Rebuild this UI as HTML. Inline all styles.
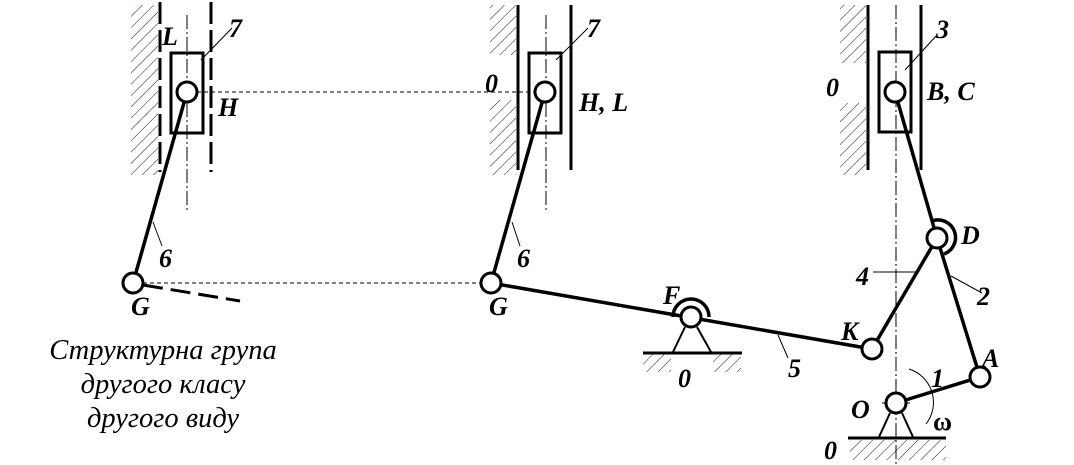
<!DOCTYPE html>
<html><head><meta charset="utf-8"><style>
html,body{margin:0;padding:0;background:#fff;}
svg{display:block;}
text{font-family:"Liberation Serif",serif;font-style:italic;font-weight:bold;fill:#000;}
.cap{font-weight:normal;font-size:28.5px;}
</style></head><body>
<svg width="1074" height="465" viewBox="0 0 1074 465" xmlns="http://www.w3.org/2000/svg">
<defs>
<pattern id="h" width="8" height="8" patternUnits="userSpaceOnUse" patternTransform="rotate(45)">
<line x1="0" y1="0" x2="0" y2="8" stroke="#000" stroke-width="0.9"/>
</pattern>
</defs>
<g fill="url(#h)">
<rect x="131" y="5" width="27" height="170"/>
<rect x="490" y="5" width="26" height="50"/>
<rect x="490" y="100" width="26" height="75"/>
<rect x="840" y="5" width="26" height="58"/>
<rect x="840" y="103" width="26" height="72"/>
<rect x="643" y="354" width="28" height="18"/>
<rect x="713" y="354" width="28" height="18"/>
<rect x="850" y="440" width="96" height="20"/>
</g>
<g stroke="#000" fill="none">
<line x1="197" y1="92" x2="535" y2="92" stroke-width="1" stroke-dasharray="4,3"/>
<line x1="143" y1="283" x2="481" y2="283" stroke-width="1" stroke-dasharray="4,3"/>
<line x1="187" y1="15" x2="187" y2="212" stroke-width="1" stroke-dasharray="14,3,2,3"/>
<line x1="546" y1="15" x2="546" y2="212" stroke-width="1" stroke-dasharray="14,3,2,3"/>
<line x1="896" y1="5" x2="896" y2="465" stroke-width="1" stroke-dasharray="14,3,2,3"/>
<line x1="160" y1="2" x2="160" y2="172" stroke-width="3" stroke-dasharray="22,6"/>
<line x1="211" y1="2" x2="211" y2="172" stroke-width="3" stroke-dasharray="22,6"/>
<line x1="143" y1="285" x2="240" y2="301" stroke-width="3" stroke-dasharray="20,8"/>
<line x1="518" y1="5" x2="518" y2="170" stroke-width="3"/>
<line x1="571" y1="5" x2="571" y2="170" stroke-width="3"/>
<line x1="868" y1="5" x2="868" y2="170" stroke-width="3"/>
<line x1="921" y1="5" x2="921" y2="170" stroke-width="3"/>
<rect x="171" y="53" width="32" height="80" stroke-width="3"/>
<rect x="529" y="53" width="32" height="80" stroke-width="3"/>
<rect x="879" y="52" width="32" height="80" stroke-width="3"/>
<g stroke-width="3.5">
<line x1="187" y1="92" x2="133" y2="283"/>
<line x1="545" y1="92" x2="491" y2="283"/>
<line x1="491" y1="283" x2="872" y2="349"/>
<line x1="895" y1="92" x2="937" y2="238"/>
<line x1="937" y1="238" x2="872" y2="349"/>
<line x1="937" y1="238" x2="980" y2="377"/>
<line x1="980" y1="377" x2="896" y2="403"/>
<path d="M673 317 A18 18 0 0 1 709 317"/>
<path d="M932 221 A17 17 0 0 1 944 254"/>
</g>
<g stroke-width="2">
<line x1="685" y1="327" x2="673" y2="352"/><line x1="697" y1="327" x2="711" y2="352"/>
<line x1="890" y1="413" x2="879" y2="437"/><line x1="902" y1="413" x2="913" y2="437"/>
</g>
<line x1="643" y1="353" x2="742" y2="353" stroke-width="3"/>
<line x1="848" y1="438" x2="946" y2="438" stroke-width="3"/>
<g stroke-width="1">
<line x1="201" y1="60" x2="232" y2="28"/>
<line x1="556" y1="60" x2="588" y2="28"/>
<line x1="905" y1="70" x2="936" y2="36"/>
<line x1="153" y1="222" x2="162" y2="246"/>
<line x1="512" y1="222" x2="520" y2="246"/>
<line x1="778" y1="335" x2="788" y2="358"/>
<line x1="873" y1="272" x2="917" y2="272"/>
<line x1="951" y1="276" x2="982" y2="293"/>
<path d="M909 369 A35 35 0 0 1 926 424"/>
<line x1="681" y1="317" x2="701" y2="317"/><line x1="691" y1="307" x2="691" y2="327"/>
<line x1="882" y1="403" x2="910" y2="403"/>
</g>
</g>
<g fill="#fff" stroke="#000" stroke-width="3">
<circle cx="187" cy="92" r="10"/>
<circle cx="545" cy="92" r="10"/>
<circle cx="895" cy="92" r="10"/>
<circle cx="133" cy="283" r="10"/>
<circle cx="491" cy="283" r="10"/>
<circle cx="691" cy="317" r="10"/>
<circle cx="872" cy="349" r="10"/>
<circle cx="937" cy="238" r="10"/>
<circle cx="980" cy="377" r="10"/>
<circle cx="896" cy="403" r="10"/>
</g>
<g font-size="26">
<text x="162" y="45">L</text><text x="229" y="37">7</text><text x="218" y="116">H</text>
<text x="159" y="267">6</text><text x="131" y="315">G</text>
<text x="485" y="92">0</text><text x="587" y="37">7</text><text x="579" y="111">H, L</text>
<text x="517" y="267">6</text><text x="489" y="315">G</text>
<text x="826" y="96">0</text><text x="936" y="38">3</text><text x="927" y="100">B, C</text>
<text x="961" y="244">D</text><text x="856" y="285">4</text><text x="977" y="305">2</text>
<text x="663" y="304">F</text><text x="678" y="387">0</text><text x="788" y="377">5</text>
<text x="841" y="340">K</text><text x="982" y="367">A</text><text x="931" y="387">1</text>
<text x="851" y="418">O</text><text x="933" y="430" style="font-style:normal">ω</text>
<text x="824" y="459">0</text>
</g>
<text class="cap" x="163" y="359" text-anchor="middle">Структурна група</text>
<text class="cap" x="163" y="393" text-anchor="middle">другого класу</text>
<text class="cap" x="163" y="427" text-anchor="middle">другого виду</text>
</svg>
</body></html>
